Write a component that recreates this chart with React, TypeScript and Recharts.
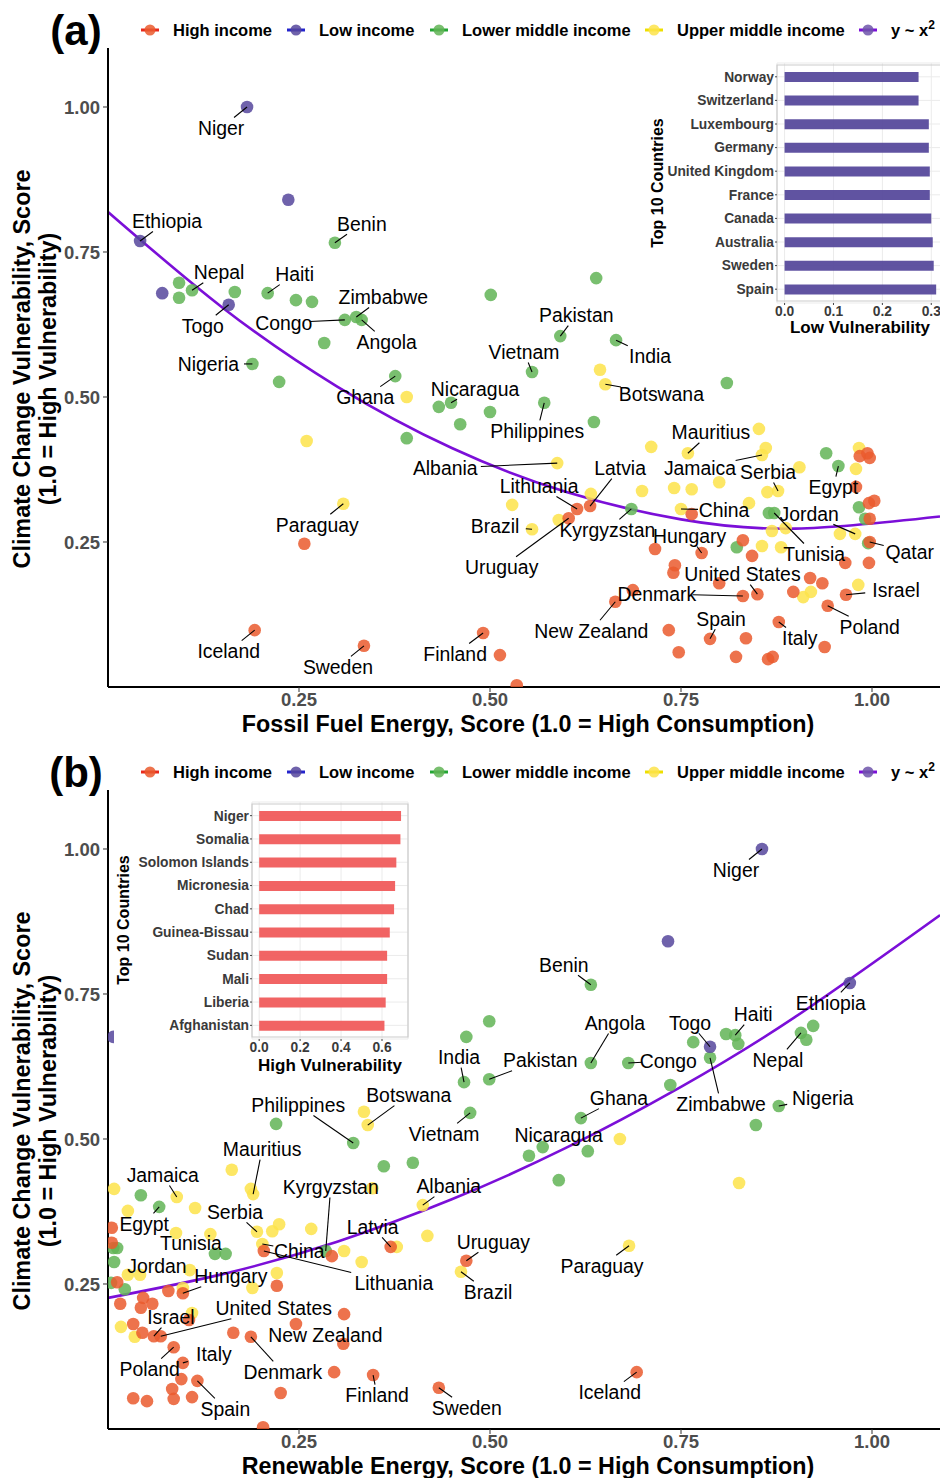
import React from 'react';
import {
  ComposedChart,
  Scatter,
  Line,
  XAxis,
  YAxis,
  BarChart,
  Bar,
  CartesianGrid,
  ReferenceArea,
} from 'recharts';

type Row = [number, number, string?];
type Pt = { x: number; y: number; name?: string };

const toPts = (rows: Row[]): Pt[] => rows.map(([x, y, name]) => ({ x, y, name }));

// ---- (a) fossil fuel energy vs vulnerability ----
const fossilHigh: Row[] = [
  [0.257, 0.247], [0.192, 0.098, 'Iceland'], [0.335, 0.071, 'Sweden'], [0.491, 0.093, 'Finland'],
  [0.513, 0.055], [0.535, 0.003], [0.984, 0.398], [0.997, 0.395], [0.994, 0.403], [0.979, 0.345],
  [0.996, 0.317], [1.003, 0.321], [0.997, 0.29], [0.997, 0.25, 'Qatar'], [0.614, 0.307, 'Lithuania'],
  [0.631, 0.312, 'Latvia'], [0.603, 0.291, 'Uruguay'], [0.764, 0.298], [0.831, 0.253], [0.716, 0.238],
  [0.777, 0.231, 'Hungary'], [0.843, 0.226], [0.965, 0.214], [0.996, 0.214], [0.742, 0.21],
  [0.74, 0.197], [0.8, 0.179], [0.85, 0.16, 'United States'], [0.831, 0.157, 'Denmark'],
  [0.919, 0.188], [0.935, 0.179], [0.897, 0.164], [0.966, 0.159, 'Israel'], [0.942, 0.14, 'Poland'],
  [0.664, 0.147, 'New Zealand'], [0.687, 0.167], [0.878, 0.112, 'Italy'], [0.734, 0.098],
  [0.788, 0.083, 'Spain'], [0.835, 0.084], [0.747, 0.06], [0.822, 0.052], [0.864, 0.048],
  [0.87, 0.052], [0.938, 0.069],
];
const fossilLow: Row[] = [
  [0.182, 1.0, 'Niger'], [0.236, 0.84], [0.042, 0.769, 'Ethiopia'], [0.071, 0.679], [0.158, 0.659, 'Togo'],
];
const fossilLowerMid: Row[] = [
  [0.093, 0.697], [0.093, 0.671], [0.11, 0.684, 'Nepal'], [0.166, 0.681], [0.209, 0.679, 'Haiti'],
  [0.246, 0.667], [0.267, 0.664], [0.297, 0.766, 'Benin'], [0.31, 0.633, 'Congo'],
  [0.325, 0.638, 'Zimbabwe'], [0.332, 0.633, 'Angola'], [0.283, 0.593], [0.189, 0.557, 'Nigeria'],
  [0.224, 0.526], [0.501, 0.676], [0.639, 0.705], [0.592, 0.605, 'Pakistan'], [0.665, 0.598, 'India'],
  [0.555, 0.543, 'Vietnam'], [0.376, 0.536, 'Ghana'], [0.449, 0.49, 'Nicaragua'], [0.433, 0.483],
  [0.5, 0.474], [0.461, 0.453], [0.391, 0.429], [0.81, 0.524], [0.571, 0.49, 'Philippines'],
  [0.636, 0.457], [0.94, 0.403], [0.956, 0.381, 'Egypt'], [0.685, 0.307, 'Kyrgyzstan'], [0.865, 0.3],
  [0.872, 0.3, 'Tunisia'], [0.983, 0.31], [0.991, 0.29], [0.995, 0.248], [0.823, 0.241],
];
const fossilUpperMid: Row[] = [
  [0.391, 0.5], [0.26, 0.424], [0.308, 0.316, 'Paraguay'], [0.644, 0.547], [0.651, 0.522, 'Botswana'],
  [0.759, 0.403, 'Mauritius'], [0.852, 0.445], [0.711, 0.414], [0.861, 0.412], [0.856, 0.4, 'Jamaica'],
  [0.588, 0.386, 'Albania'], [0.983, 0.412], [0.979, 0.376], [0.905, 0.379], [0.877, 0.338, 'Serbia'],
  [0.863, 0.336], [0.8, 0.353], [0.764, 0.341], [0.741, 0.343], [0.699, 0.338], [0.632, 0.333],
  [0.529, 0.314], [0.75, 0.307, 'China'], [0.839, 0.317], [0.958, 0.264], [0.978, 0.264, 'Jordan'],
  [0.869, 0.269], [0.887, 0.274], [0.555, 0.272, 'Brazil'], [0.59, 0.288], [0.856, 0.243],
  [0.881, 0.241], [0.92, 0.164], [0.91, 0.155], [0.982, 0.176],
];
// quadratic fit, sampled along the curve
const fossilFit = [
  { x: 0, y: 0.819 }, { x: 0.15, y: 0.654 }, { x: 0.3, y: 0.518 }, { x: 0.45, y: 0.412 },
  { x: 0.6, y: 0.336 }, { x: 0.75, y: 0.289 }, { x: 0.9, y: 0.273 }, { x: 1.089, y: 0.294 },
];

// ---- (b) renewable energy vs vulnerability ----
const renewHigh: Row[] = [
  [0.469, 0.29, 'Uruguay'], [0.692, 0.098, 'Iceland'], [0.433, 0.071, 'Sweden'], [0.005, 0.347],
  [0.005, 0.321], [0.37, 0.314, 'Latvia'], [0.204, 0.307, 'Lithuania'], [0.293, 0.298], [0.221, 0.247],
  [0.098, 0.234, 'Hungary'], [0.079, 0.238], [0.012, 0.253], [0.046, 0.226], [0.058, 0.216],
  [0.043, 0.209], [0.016, 0.216], [0.106, 0.188], [0.06, 0.16, 'Israel'], [0.069, 0.16, 'United States'],
  [0.033, 0.181], [0.045, 0.166], [0.164, 0.166], [0.187, 0.159, 'Denmark'], [0.246, 0.181],
  [0.309, 0.198], [0.308, 0.147, 'New Zealand'], [0.086, 0.141, 'Poland'], [0.098, 0.114, 'Italy'],
  [0.296, 0.098], [0.347, 0.093, 'Finland'], [0.096, 0.086], [0.117, 0.083, 'Spain'], [0.084, 0.069],
  [0.086, 0.052], [0.11, 0.055], [0.033, 0.053], [0.051, 0.048], [0.226, 0.062], [0.203, 0.003],
];
const renewLow: Row[] = [
  [0.856, 1.0, 'Niger'], [0.733, 0.841], [0.971, 0.769, 'Ethiopia'], [0.788, 0.659, 'Togo'], [0.007, 0.676],
];
const renewLowerMid: Row[] = [
  [0.632, 0.766, 'Benin'], [0.499, 0.703], [0.469, 0.676], [0.632, 0.631, 'Angola'],
  [0.681, 0.631, 'Congo'], [0.766, 0.667], [0.788, 0.64, 'Zimbabwe'], [0.821, 0.679, 'Haiti'],
  [0.809, 0.681], [0.825, 0.664], [0.736, 0.593], [0.907, 0.683, 'Nepal'], [0.914, 0.671],
  [0.923, 0.695], [0.878, 0.557, 'Nigeria'], [0.848, 0.524], [0.466, 0.598, 'India'],
  [0.499, 0.603, 'Pakistan'], [0.474, 0.545, 'Vietnam'], [0.619, 0.536, 'Ghana'],
  [0.569, 0.486, 'Nicaragua'], [0.551, 0.471], [0.628, 0.479], [0.59, 0.429],
  [0.321, 0.493, 'Philippines'], [0.22, 0.526], [0.361, 0.453], [0.399, 0.459], [0.043, 0.403],
  [0.067, 0.383, 'Egypt'], [0.007, 0.312], [0.012, 0.312], [0.14, 0.302, 'Tunisia'], [0.154, 0.302],
  [0.285, 0.307, 'Kyrgyzstan'], [0.008, 0.288], [0.004, 0.252], [0.022, 0.241],
];
const renewUpperMid: Row[] = [
  [0.34, 0.524, 'Botswana'], [0.335, 0.547], [0.67, 0.5], [0.826, 0.424], [0.412, 0.386, 'Albania'],
  [0.418, 0.333], [0.462, 0.271, 'Brazil'], [0.682, 0.316, 'Paraguay'], [0.162, 0.447],
  [0.19, 0.405, 'Mauritius'], [0.187, 0.414], [0.346, 0.415], [0.09, 0.4, 'Jamaica'], [0.008, 0.414],
  [0.026, 0.376], [0.114, 0.381], [0.089, 0.338], [0.134, 0.336], [0.195, 0.34, 'Serbia'],
  [0.215, 0.341], [0.224, 0.353], [0.266, 0.345], [0.378, 0.314], [0.202, 0.319, 'China'],
  [0.309, 0.307], [0.332, 0.288], [0.026, 0.266, 'Jordan'], [0.042, 0.266], [0.107, 0.274],
  [0.221, 0.269], [0.189, 0.243], [0.098, 0.243], [0.11, 0.2], [0.017, 0.176], [0.035, 0.159],
];
const renewFit = [
  { x: 0, y: 0.226 }, { x: 0.15, y: 0.267 }, { x: 0.3, y: 0.323 }, { x: 0.45, y: 0.396 },
  { x: 0.6, y: 0.485 }, { x: 0.75, y: 0.59 }, { x: 0.9, y: 0.711 }, { x: 1.089, y: 0.886 },
];

// ---- inset bar charts ----
const lowVulnCountries = ['Norway', 'Switzerland', 'Luxembourg', 'Germany', 'United Kingdom', 'France', 'Canada', 'Australia', 'Sweden', 'Spain'];
const lowVulnScores = [0.274, 0.274, 0.295, 0.295, 0.297, 0.297, 0.3, 0.303, 0.305, 0.31];
const highVulnCountries = ['Niger', 'Somalia', 'Solomon Islands', 'Micronesia', 'Chad', 'Guinea-Bissau', 'Sudan', 'Mali', 'Liberia', 'Afghanistan'];
const highVulnScores = [0.693, 0.69, 0.67, 0.664, 0.659, 0.638, 0.625, 0.625, 0.618, 0.612];

const FONT = '"Liberation Sans", Arial, Helvetica, sans-serif';
const COLORS = { high: '#EA5A2E', low: '#56479C', lowerMid: '#62B456', upperMid: '#FDE34A' };
const FIT_COLOR = '#7B0FD8';
const X_MAX = 1.089;
const Y_MAX = 1.1017;
const LABEL_SIZE = 19.4;

// label placement (pixel offset of the text centre from its point)
const labelPosA: Record<string, [number, number]> = {
  Niger: [-26, 21], Ethiopia: [27, -20], Benin: [27, -19], Nepal: [27, -18], Haiti: [27, -19],
  Zimbabwe: [27, -20], Togo: [-26, 21], Congo: [-61, 3], Angola: [25, 22], Nigeria: [-44, 0],
  Pakistan: [16, -21], India: [34, 16], Vietnam: [-8, -20], Ghana: [-30, 21], Nicaragua: [24, -14],
  Botswana: [56, 10], Philippines: [-7, 28], Mauritius: [23, -21], Jamaica: [-62, 13],
  Albania: [-112, 5], Latvia: [30, -38], Serbia: [-10, -19], Egypt: [-5, 21], Lithuania: [-38, -23],
  China: [43, 1], Jordan: [-46, -20], Brazil: [-37, -3], Kyrgyzstan: [-24, 21], Hungary: [-12, -17],
  Tunisia: [40, 41], Qatar: [40, 10], Uruguay: [-67, 49], 'United States': [-15, -20],
  Israel: [50, -5], Denmark: [-86, -2], Spain: [11, -20], 'New Zealand': [-24, 29], Poland: [42, 21],
  Italy: [21, 16], Iceland: [-26, 21], Sweden: [-26, 21], Finland: [-28, 21], Paraguay: [-26, 21],
};
const labelPosB: Record<string, [number, number]> = {
  Niger: [-26, 21], Benin: [-27, -20], Ethiopia: [-19, 20], Angola: [24, -40], Togo: [-20, -24],
  Haiti: [18, -21], India: [-5, -25], Pakistan: [51, -19], Congo: [40, -2], Nepal: [-23, 27],
  Zimbabwe: [11, 46], Nigeria: [44, -8], Ghana: [38, -20], Botswana: [41, -30],
  Philippines: [-55, -38], Vietnam: [-26, 21], Nicaragua: [16, -12], Mauritius: [9, -45],
  Jamaica: [-14, -22], Kyrgyzstan: [5, -64], Albania: [26, -19], Egypt: [-15, 17], Serbia: [-22, -20],
  Latvia: [-18, -20], Tunisia: [-24, -11], China: [37, 7], Lithuania: [130, 32], Uruguay: [27, -19],
  Jordan: [29, -9], Hungary: [48, -17], Brazil: [27, 20], Paraguay: [-27, 20],
  'United States': [113, -28], Israel: [17, -19], 'New Zealand': [-18, -9], Denmark: [32, 35],
  Poland: [-24, 22], Italy: [31, -9], Finland: [4, 20], Sweden: [28, 20], Spain: [28, 28],
  Iceland: [-27, 20],
};

const dotShape = (fill: string) => (props: any) => {
  const { cx, cy } = props;
  if (cx == null || cy == null) return <g />;
  return <circle cx={cx} cy={cy} r={6.3} fill={fill} fillOpacity={0.85} />;
};

// text label with a leader segment ending on the label box (repel style)
const labelShape = (offsets: Record<string, [number, number]>) => (props: any) => {
  const { cx, cy, payload } = props;
  const name: string | undefined = payload?.name;
  const off = name ? offsets[name] : undefined;
  if (cx == null || cy == null || !name || !off) return <g />;
  const tx = cx + off[0];
  const ty = cy + off[1];
  const hw = name.length * 4.8 + 2;
  const hh = 10.5;
  const dx = cx - tx;
  const dy = cy - ty;
  const s = Math.min(dx ? hw / Math.abs(dx) : Infinity, dy ? hh / Math.abs(dy) : Infinity);
  let seg = null;
  if (s < 1) {
    const ex = tx + dx * s;
    const ey = ty + dy * s;
    if (Math.hypot(cx - ex, cy - ey) > 5) {
      seg = <line x1={cx} y1={cy} x2={ex} y2={ey} stroke="#000" strokeWidth={1.1} />;
    }
  }
  return (
    <g>
      {seg}
      <text x={tx} y={ty} dy="0.35em" textAnchor="middle" fontSize={LABEL_SIZE} fontFamily={FONT} fill="#000">
        {name}
      </text>
    </g>
  );
};

type PanelProps = {
  top: number;
  height: number;
  marginTop: number;
  xAxisHeight: number;
  high: Row[];
  low: Row[];
  lowerMid: Row[];
  upperMid: Row[];
  fit: { x: number; y: number }[];
  offsets: Record<string, [number, number]>;
};

const tickStyle = { fill: '#4D4D4D', fontSize: 18.5, fontWeight: 700, fontFamily: FONT };

const ScatterPanel: React.FC<PanelProps> = ({ top, height, marginTop, xAxisHeight, high, low, lowerMid, upperMid, fit, offsets }) => {
  const groups: [Pt[], string][] = [
    [toPts(lowerMid), COLORS.lowerMid],
    [toPts(upperMid), COLORS.upperMid],
    [toPts(high), COLORS.high],
    [toPts(low), COLORS.low],
  ];
  const labelled = groups.flatMap(([pts]) => pts.filter((p) => p.name));
  return (
    <div style={{ position: 'absolute', left: 0, top, width: 940, height }}>
      <ComposedChart width={940} height={height} margin={{ top: marginTop, right: 0, bottom: 0, left: 0 }}>
        <XAxis
          type="number"
          dataKey="x"
          domain={[0, X_MAX]}
          allowDataOverflow
          ticks={[0.25, 0.5, 0.75, 1]}
          tickFormatter={(v: number) => v.toFixed(2)}
          height={xAxisHeight}
          axisLine={{ stroke: '#000', strokeWidth: 2 }}
          tickLine={{ stroke: '#333' }}
          tickSize={5}
          tickMargin={1}
          tick={tickStyle}
        />
        <YAxis
          type="number"
          dataKey="y"
          domain={[0, Y_MAX]}
          allowDataOverflow
          ticks={[0.25, 0.5, 0.75, 1]}
          tickFormatter={(v: number) => v.toFixed(2)}
          width={108}
          axisLine={{ stroke: '#000', strokeWidth: 2 }}
          tickLine={{ stroke: '#333' }}
          tickSize={5}
          tickMargin={3}
          tick={tickStyle}
        />
        {groups.map(([pts, color], i) => (
          <Scatter key={i} data={pts} shape={dotShape(color)} isAnimationActive={false} />
        ))}
        <Line data={fit} dataKey="y" type="natural" stroke={FIT_COLOR} strokeWidth={2.6} dot={false} activeDot={false} isAnimationActive={false} />
        <Scatter data={labelled} shape={labelShape(offsets)} isAnimationActive={false} />
      </ComposedChart>
    </div>
  );
};

type InsetProps = {
  left: number;
  top: number;
  width: number;
  height: number;
  yWidth: number;
  margin: { top: number; right: number; bottom: number; left: number };
  xHeight: number;
  names: string[];
  scores: number[];
  color: string;
  domain: [number, number];
  ticks: number[];
};

const insetTick = { fill: '#3A3A3A', fontSize: 13.8, fontWeight: 700, fontFamily: FONT };

const InsetBars: React.FC<InsetProps> = ({ left, top, width, height, yWidth, margin, xHeight, names, scores, color, domain, ticks }) => {
  const rows = names.map((name, i) => ({ name, value: scores[i] }));
  return (
    <div style={{ position: 'absolute', left, top, width, height, background: '#fff' }}>
      <BarChart layout="vertical" width={width} height={height} data={rows} margin={margin}>
        <CartesianGrid stroke="#EBEBEB" />
        <ReferenceArea x1={domain[0]} x2={domain[1]} fill="none" stroke="#CCCCCC" strokeWidth={1.2} ifOverflow="visible" />
        <XAxis
          type="number"
          domain={domain}
          allowDataOverflow
          ticks={ticks}
          tickFormatter={(v: number) => v.toFixed(1)}
          height={xHeight}
          axisLine={false}
          tickLine={{ stroke: '#444' }}
          tickSize={2}
          tickMargin={1}
          tick={insetTick}
        />
        <YAxis
          type="category"
          dataKey="name"
          width={yWidth}
          interval={0}
          padding={{ top: 2, bottom: 2 }}
          axisLine={false}
          tickLine={{ stroke: '#444' }}
          tickSize={2}
          tickMargin={1}
          tick={insetTick}
        />
        <Bar dataKey="value" fill={color} fillOpacity={0.95} barSize={10} isAnimationActive={false} />
      </BarChart>
    </div>
  );
};

const legendItems = [
  { label: 'High income', line: '#E8291C', dot: COLORS.high, keyX: 150 },
  { label: 'Low income', line: '#2424CC', dot: COLORS.low, keyX: 296 },
  { label: 'Lower middle income', line: '#22A533', dot: COLORS.lowerMid, keyX: 439 },
  { label: 'Upper middle income', line: '#EEDF00', dot: COLORS.upperMid, keyX: 654 },
  { label: 'y ~ x', line: FIT_COLOR, dot: '#6E55AA', keyX: 868, sup: '2' },
];

const Legend: React.FC<{ y: number }> = ({ y }) => (
  <g fontFamily={FONT} fontWeight={700} fontSize={16.5}>
    {legendItems.map((it) => (
      <g key={it.label}>
        <line x1={it.keyX - 9} x2={it.keyX + 9} y1={y} y2={y} stroke={it.line} strokeWidth={3} />
        <circle cx={it.keyX} cy={y} r={5.5} fill={it.dot} fillOpacity={0.85} />
        <text x={it.keyX + 23} y={y} dy="0.35em" fill="#000">
          {it.label}
          {it.sup ? <tspan dy="-0.55em" fontSize={12}>{it.sup}</tspan> : null}
        </text>
      </g>
    ))}
  </g>
);

const YTitle: React.FC<{ cy: number }> = ({ cy }) => (
  <g fontFamily={FONT} fontWeight={700} fontSize={23.4} fill="#000" textAnchor="middle">
    <text transform={`translate(22,${cy}) rotate(-90)`} dy="0.35em">Climate Change Vulnerability, Score</text>
    <text transform={`translate(48,${cy}) rotate(-90)`} dy="0.35em">(1.0 = High Vulnerability)</text>
  </g>
);

const Annotations: React.FC = () => (
  <svg width={940} height={1478} style={{ position: 'absolute', left: 0, top: 0, pointerEvents: 'none' }}>
    <text x={76} y={45} textAnchor="middle" fontSize={42} fontWeight={700} fontFamily={FONT}>(a)</text>
    <text x={76} y={787} textAnchor="middle" fontSize={42} fontWeight={700} fontFamily={FONT}>(b)</text>
    <Legend y={30} />
    <Legend y={772} />
    <YTitle cy={369} />
    <YTitle cy={1111} />
    <g fontFamily={FONT} fontWeight={700} fontSize={23.3} fill="#000" textAnchor="middle">
      <text x={528} y={724} dy="0.35em">Fossil Fuel Energy, Score (1.0 = High Consumption)</text>
      <text x={528} y={1466} dy="0.35em">Renewable Energy, Score (1.0 = High Consumption)</text>
    </g>
    <g fontFamily={FONT} fontWeight={700} fill="#000" textAnchor="middle">
      <text transform="translate(657,183) rotate(-90)" dy="0.35em" fontSize={16}>Top 10 Countries</text>
      <text x={860} y={327} dy="0.35em" fontSize={17}>Low Vulnerability</text>
      <text transform="translate(123,920) rotate(-90)" dy="0.35em" fontSize={16}>Top 10 Countries</text>
      <text x={330} y={1065} dy="0.35em" fontSize={17}>High Vulnerability</text>
    </g>
  </svg>
);

export default function App() {
  return (
    <div style={{ position: 'absolute', left: 0, top: 0, width: 940, height: 1478, overflow: 'hidden', background: '#fff', fontFamily: FONT }}>
      <ScatterPanel
        top={0}
        height={740}
        marginTop={48}
        xAxisHeight={53}
        high={fossilHigh}
        low={fossilLow}
        lowerMid={fossilLowerMid}
        upperMid={fossilUpperMid}
        fit={fossilFit}
        offsets={labelPosA}
      />
      <ScatterPanel
        top={740}
        height={738}
        marginTop={50}
        xAxisHeight={49}
        high={renewHigh}
        low={renewLow}
        lowerMid={renewLowerMid}
        upperMid={renewUpperMid}
        fit={renewFit}
        offsets={labelPosB}
      />
      <InsetBars
        left={640}
        top={55}
        width={310}
        height={290}
        yWidth={137}
        margin={{ top: 8, right: 6.5, bottom: 0, left: 0 }}
        xHeight={42}
        names={lowVulnCountries}
        scores={lowVulnScores}
        color="#574A9C"
        domain={[-0.0155, 0.325]}
        ticks={[0, 0.1, 0.2, 0.3]}
      />
      <InsetBars
        left={114}
        top={790}
        width={300}
        height={290}
        yWidth={138}
        margin={{ top: 12, right: 6, bottom: 0, left: 0 }}
        xHeight={41}
        names={highVulnCountries}
        scores={highVulnScores}
        color="#F05C5C"
        domain={[-0.035, 0.727]}
        ticks={[0, 0.2, 0.4, 0.6]}
      />
      <Annotations />
    </div>
  );
}
